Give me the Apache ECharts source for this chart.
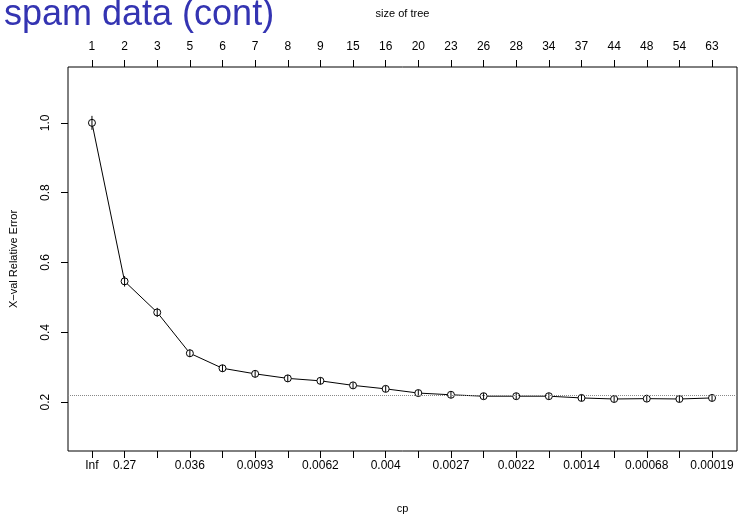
<!DOCTYPE html>
<html>
<head>
<meta charset="utf-8">
<script src="https://cdn.jsdelivr.net/npm/echarts@6/dist/echarts.min.js"></script>
<style>
html,body{margin:0;padding:0;background:#fff;}
#chart{width:739px;height:515px;}
</style>
</head>
<body>
<div id="chart"></div>
<script>
// Data
var cpLabels = ['Inf','0.27','','0.036','','0.0093','','0.0062','','0.004','','0.0027','','0.0022','','0.0014','','0.00068','','0.00019'];
var treeSizes = ['1','2','3','5','6','7','8','9','15','16','20','23','26','28','34','37','44','48','54','63'];
var xerror = [1.000,0.546,0.457,0.340,0.297,0.281,0.268,0.261,0.248,0.238,0.226,0.221,0.217,0.217,0.217,0.212,0.209,0.210,0.209,0.212];
var xstd   = [0.020,0.015,0.013,0.011,0.010,0.010,0.010,0.010,0.009,0.009,0.009,0.009,0.009,0.009,0.009,0.009,0.009,0.009,0.009,0.009];
var yTicks = [0.2,0.4,0.6,0.8,1.0];
var threshold = 0.221;

var idx = xerror.map(function(_, i){ return i; });
var font = 'Liberation Sans, Arial, Helvetica, sans-serif';

var chart = echarts.init(document.getElementById('chart'), null, {renderer:'canvas'});
var xMin = -0.734, xMax = 19.765;

var option = {
  animation: false,
  backgroundColor: '#fff',
  title: {
    text: 'spam data (cont)',
    left: -1, top: -8,
    textStyle: {color: '#3434B2', fontSize: 36, fontWeight: 'normal', fontFamily: font}
  },
  grid: {left: 68, right: 2, top: 67, bottom: 64, containLabel: false, outerBoundsMode: 'none',
         show: true, borderColor: '#000', borderWidth: 1, backgroundColor: 'transparent'},
  xAxis: [{
    type: 'value', position: 'bottom', min: xMin, max: xMax,
    name: 'cp', nameLocation: 'middle', nameGap: 52,
    nameTextStyle: {fontFamily: font, fontSize: 11, color: '#000'},
    axisLine: {show: false, onZero: false},
    splitLine: {show: false},
    axisTick: {show: true, length: 7, lineStyle: {color: '#000'}, customValues: idx},
    axisLabel: {show: true, customValues: idx, margin: 9, fontFamily: font, fontSize: 12, color: '#000',
      hideOverlap: false,
      formatter: function(v){ return cpLabels[Math.round(v)]; }}
  },{
    type: 'value', position: 'top', min: xMin, max: xMax,
    name: 'size of tree', nameLocation: 'middle', nameGap: 48,
    nameTextStyle: {fontFamily: font, fontSize: 11, color: '#000'},
    axisLine: {show: false, onZero: false},
    splitLine: {show: false},
    axisTick: {show: true, length: 7, lineStyle: {color: '#000'}, customValues: idx},
    axisLabel: {show: true, customValues: idx, margin: 14, fontFamily: font, fontSize: 12, color: '#000',
      hideOverlap: false,
      formatter: function(v){ return treeSizes[Math.round(v)]; }}
  }],
  yAxis: {
    type: 'value', min: 0.06, max: 1.16,
    name: 'X\u2212val Relative Error', nameLocation: 'middle', nameGap: 49,
    nameTextStyle: {fontFamily: font, fontSize: 11, color: '#000'},
    axisLine: {show: false, onZero: false},
    splitLine: {show: false},
    axisTick: {show: true, length: 7, lineStyle: {color: '#000'}, customValues: yTicks},
    axisLabel: {show: true, customValues: yTicks, rotate: 90, margin: 16, fontFamily: font, fontSize: 12, color: '#000',
      formatter: function(v){ return v.toFixed(1); }}
  },
  series: [{
    type: 'line',
    data: xerror.map(function(v, i){ return [i, v]; }),
    symbol: 'circle', symbolSize: 7,
    itemStyle: {color: '#fff', borderColor: '#000', borderWidth: 1},
    lineStyle: {color: '#000', width: 1},
    z: 3,
    markLine: {
      silent: true, symbol: ['none','none'], label: {show: false},
      lineStyle: {color: '#888', type: 'dotted', width: 1},
      data: [{yAxis: threshold}]
    }
  },{
    type: 'custom',
    data: xerror.map(function(v, i){ return [i, v, xstd[i]]; }),
    z: 4,
    renderItem: function(params, api){
      var x = api.value(0), y = api.value(1), s = api.value(2);
      var p1 = api.coord([x, y + s]);
      var p2 = api.coord([x, y - s]);
      return {type: 'line', shape: {x1: p1[0], y1: p1[1], x2: p2[0], y2: p2[1]},
              style: {stroke: '#000', lineWidth: 1}};
    }
  }]
};
chart.setOption(option);
</script>
</body>
</html>
